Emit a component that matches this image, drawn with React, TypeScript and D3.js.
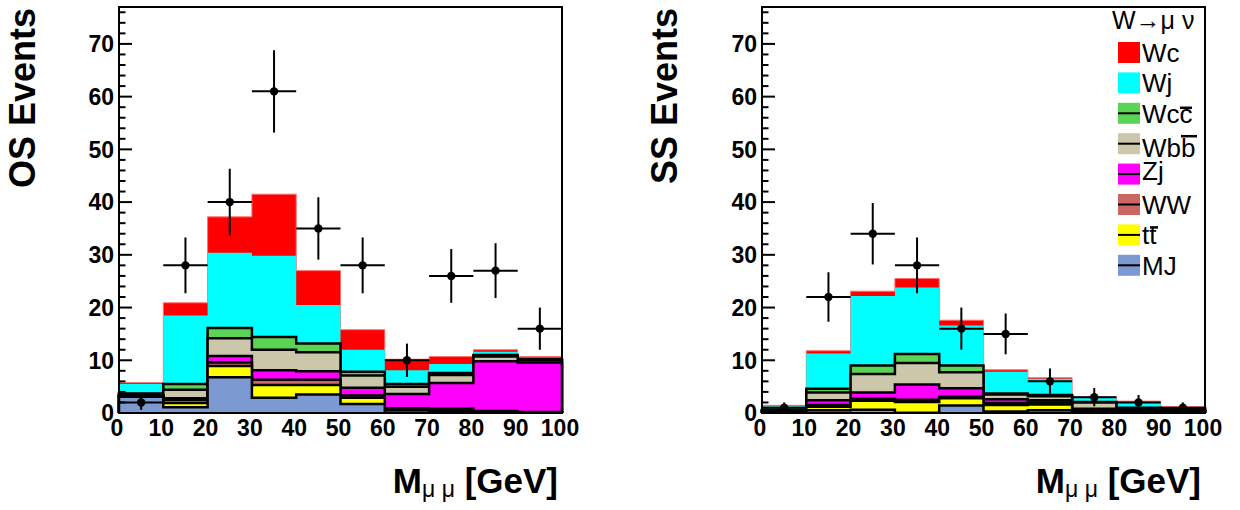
import React from 'react';
import * as d3 from 'd3';

// ---------- data ----------
const binLow = [0, 10, 20, 30, 40, 50, 60, 70, 80, 90];
const xMax = 100;
const yMax = 77;
const xTickValues = [0, 10, 20, 30, 40, 50, 60, 70, 80, 90, 100];
const yTickValues = [0, 10, 20, 30, 40, 50, 60, 70];

const processes = ['MJ', 'tt', 'WW', 'Zj', 'Wbb', 'Wcc', 'Wj', 'Wc'];
const processColors = ['#7d99d1', '#ffff00', '#cc6666', '#ff00ff', '#ccc6aa', '#59d454', '#00ffff', '#ff0000'];
const processOutlined = [true, true, true, true, true, true, false, false];

// Opposite-sign
const osMJ = [3.1, 1.1, 6.8, 2.9, 3.5, 1.7, 0.1, 0.1, 0.1, 0.05];
const osTT = [0.1, 0.8, 2.1, 2.4, 1.8, 1.2, 0.5, 0.3, 0.1, 0.05];
const osWW = [0.1, 0.6, 0.7, 1.0, 1.0, 0.4, 0.3, 0.4, 0.2, 0.1];
const osZj = [0.1, 0.3, 1.2, 1.8, 1.6, 1.5, 2.7, 4.9, 9.4, 9.4];
const osWbb = [0.2, 1.6, 3.4, 3.9, 3.6, 2.3, 1.4, 1.5, 0.9, 0.4];
const osWcc = [0.1, 1.1, 1.9, 2.4, 1.7, 0.7, 0.5, 0.4, 0.3, 0.2];
const osWj = [1.8, 13.0, 14.3, 15.4, 7.3, 4.2, 2.6, 1.7, 0.6, 0.3];
const osWc = [0.25, 2.4, 6.8, 11.7, 6.5, 3.8, 2.1, 1.4, 0.4, 0.2];
const osData = [2, 28, 40, 61, 35, 28, 10, 26, 27, 16];

// Same-sign
const ssMJ = [0.3, 0.5, 0.6, 0.05, 1.4, 0.3, 0.5, 0.1, 0.1, 0.2];
const ssTT = [0.05, 0.7, 1.7, 2.05, 1.4, 1.2, 1.1, 0.2, 0.1, 0.1];
const ssWW = [0.05, 0.3, 0.4, 0.4, 0.3, 0.4, 0.4, 0.2, 0.1, 0.1];
const ssZj = [0.05, 0.9, 1.2, 2.9, 1.6, 0.7, 0.4, 0.3, 0.2, 0.2];
const ssWbb = [0.1, 1.5, 3.5, 4.1, 3.05, 0.9, 0.8, 1.2, 0.4, 0.2];
const ssWcc = [0.05, 0.7, 1.6, 1.7, 1.25, 0.2, 0.2, 0.1, 0.1, 0.1];
const ssWj = [0.7, 6.7, 13.2, 12.6, 7.6, 4.1, 3.1, 0.85, 1.1, 0.2];
const ssWc = [0.15, 0.5, 0.9, 1.7, 1.0, 0.4, 0.2, 0.15, 0.15, 0.1];
const ssData = [1, 22, 34, 28, 16, 15, 6, 3, 2, 1];

const legendKeys = ['Wc', 'Wj', 'Wcc', 'Wbb', 'Zj', 'WW', 'tt', 'MJ'];
const legendLabels = ['Wc', 'Wj', 'Wcc', 'Wbb', 'Zj', 'WW', 'tt', 'MJ'];
const legendHeader = 'W\u2192\u03bc \u03bd';

const FONT = "'Liberation Sans', Arial, Helvetica, sans-serif";

function buildRows(cols: number[][]) {
  return binLow.map((b, i) => {
    const r: any = { bin: b };
    processes.forEach((p, k) => (r[p] = cols[k][i]));
    return r;
  });
}

const osRows = buildRows([osMJ, osTT, osWW, osZj, osWbb, osWcc, osWj, osWc]);
const ssRows = buildRows([ssMJ, ssTT, ssWW, ssZj, ssWbb, ssWcc, ssWj, ssWc]);

const TOP = 7;
const BOTTOM = 413;

function Panel({ left, right, rows, data, yTitle, titleX, legend }: any) {
  const x = d3.scaleLinear().domain([0, xMax]).range([left, right]);
  const y = d3.scaleLinear().domain([0, yMax]).range([BOTTOM, TOP]);
  const series = d3.stack().keys(processes)(rows);

  const area = d3
    .area<[number, number]>()
    .x((d) => x(d[0]))
    .y0(y(0))
    .y1((d) => y(d[1]))
    .curve(d3.curveStepAfter);
  const line = d3
    .line<[number, number]>()
    .x((d) => x(d[0]))
    .y((d) => y(d[1]))
    .curve(d3.curveStepAfter);

  const layers = [];
  for (let k = processes.length - 1; k >= 0; k--) {
    const tops = series[k].map((d: any) => d[1]);
    const pts: [number, number][] = binLow.map((b, i) => [b, tops[i]]);
    pts.push([xMax, tops[tops.length - 1]]);
    const outline: [number, number][] = [[0, 0], ...pts, [xMax, 0]];
    layers.push(
      <g key={processes[k]}>
        <path d={area(pts) || ''} fill={processColors[k]} stroke="none" />
        {processOutlined[k] ? (
          <path d={line(outline) || ''} fill="none" stroke="#000" strokeWidth={2.5} />
        ) : k === 7 ? (
          <path d={line(outline) || ''} fill="none" stroke="#ff7070" strokeWidth={1} />
        ) : null}
      </g>
    );
  }

  const minorTicks = d3.range(0, yMax, 2);

  return (
    <g>
      {layers}
      {/* data points */}
      {data.map((v: number, i: number) => {
        const cx = x(binLow[i] + 5);
        const err = Math.sqrt(v);
        return (
          <g key={'d' + i}>
            <line x1={x(binLow[i])} x2={x(binLow[i] + 10)} y1={y(v)} y2={y(v)} stroke="#000" strokeWidth={2} />
            <line x1={cx} x2={cx} y1={y(v - err)} y2={y(v + err)} stroke="#000" strokeWidth={2} />
            <circle cx={cx} cy={y(v)} r={4.2} fill="#000" />
          </g>
        );
      })}
      {/* frame */}
      <rect x={left} y={TOP} width={right - left} height={BOTTOM - TOP} fill="none" stroke="#000" strokeWidth={2} />
      {/* y ticks */}
      {minorTicks.map((t) => (
        <line key={'t' + t} x1={left} x2={left + (t % 10 === 0 ? 13 : 6.5)} y1={y(t)} y2={y(t)} stroke="#000" strokeWidth={2} />
      ))}
      {yTickValues.map((t) => (
        <text key={'yl' + t} x={left - 5} y={y(t) + 8.3} textAnchor="end" fontFamily={FONT} fontWeight="bold" fontSize={23}>
          {t}
        </text>
      ))}
      {xTickValues.map((t) => (
        <text key={'xl' + t} x={x(t) - 2} y={436} textAnchor="middle" fontFamily={FONT} fontWeight="bold" fontSize={23}>
          {t}
        </text>
      ))}
      {/* axis titles */}
      <text transform={`translate(${titleX},8) rotate(-90)`} textAnchor="end" fontFamily={FONT} fontWeight="bold" fontSize={36}>
        {yTitle}
      </text>
      <text x={right - 4} y={493} textAnchor="end" fontFamily={FONT} fontWeight="bold" fontSize={35}>
        M
        <tspan fontWeight="normal" fontSize={23} dy={4}>
          {'\u03bc \u03bc'}
        </tspan>
        <tspan dy={-4}> [GeV]</tspan>
      </text>
      {legend ? <Legend /> : null}
    </g>
  );
}

function Legend() {
  const boxX = 1118;
  const boxW = 22;
  const boxH = 21;
  const top0 = 42;
  const step = 30.4;
  const textShift: Record<string, number> = { Wbb: 4, Zj: -4 };
  return (
    <g fontFamily={FONT}>
      <text x={1112} y={29} fontSize={25}>
        {legendHeader}
      </text>
      {legendKeys.map((key, i) => {
        const k = processes.indexOf(key);
        const ty = top0 + i * step;
        const base = ty + boxH - 1 + (textShift[key] || 0);
        return (
          <g key={key}>
            <rect x={boxX} y={ty} width={boxW} height={boxH} fill={processColors[k]} />
            {processOutlined[k] ? (
              <line x1={boxX} x2={boxX + boxW} y1={ty + boxH / 2} y2={ty + boxH / 2} stroke="#000" strokeWidth={2} />
            ) : null}
            <text x={boxX + 24} y={base} fontSize={26}>
              {legendLabels[i]}
            </text>
            {key === 'Wcc' ? (
              <line x1={1180} x2={1192} y1={ty + 5} y2={ty + 5} stroke="#000" strokeWidth={2.5} />
            ) : null}
            {key === 'Wbb' ? (
              <line x1={1181} x2={1197} y1={ty + 3} y2={ty + 3} stroke="#000" strokeWidth={2.5} />
            ) : null}
            {key === 'tt' ? (
              <line x1={1150} x2={1158} y1={ty + 3} y2={ty + 3} stroke="#000" strokeWidth={2.5} />
            ) : null}
          </g>
        );
      })}
    </g>
  );
}

export default function App() {
  return (
    <svg
      width={1240}
      height={510}
      style={{ position: 'absolute', left: 0, top: 0, background: '#fff' }}
      xmlns="http://www.w3.org/2000/svg"
    >
      <rect x={0} y={0} width={1240} height={510} fill="#fff" />
      <Panel left={119} right={562} rows={osRows} data={osData} yTitle="OS Events" titleX={35} />
      <Panel left={762} right={1205} rows={ssRows} data={ssData} yTitle="SS Events" titleX={677} legend />
    </svg>
  );
}
